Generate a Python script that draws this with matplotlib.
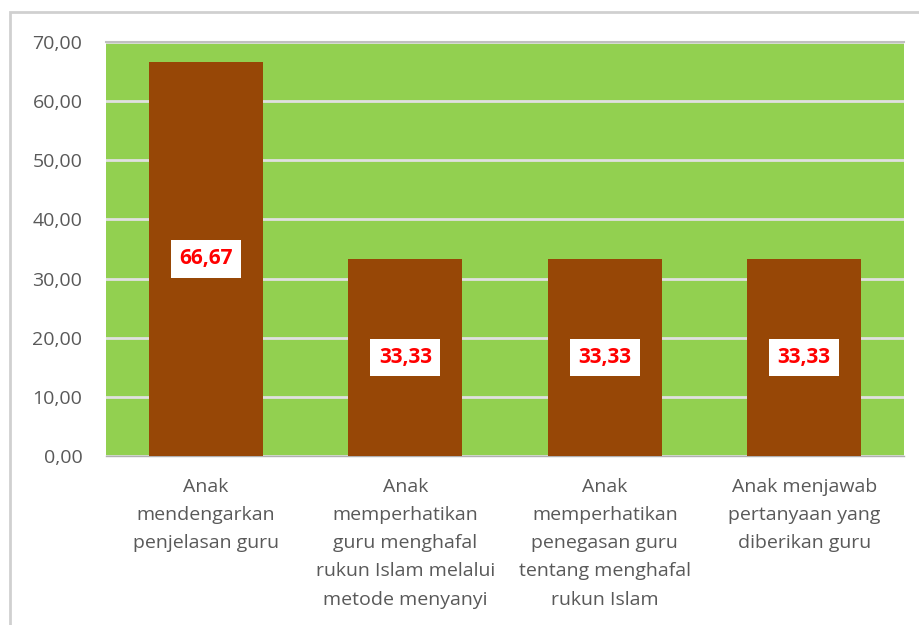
import numpy as np
import matplotlib.pyplot as plt
from matplotlib.patches import Rectangle

categories = [
    "Anak\nmendengarkan\npenjelasan guru",
    "Anak\nmemperhatikan\nguru menghafal\nrukun Islam melalui\nmetode menyanyi",
    "Anak\nmemperhatikan\npenegasan guru\ntentang menghafal\nrukun Islam",
    "Anak menjawab\npertanyaan yang\ndiberikan guru",
]
values = [66.67, 33.33, 33.33, 33.33]
yticks = [0, 10, 20, 30, 40, 50, 60, 70]

plt.rcParams['font.family'] = ['Open Sans', 'DejaVu Sans']

fig = plt.figure(figsize=(9.19, 6.25), dpi=100)
fig.patch.set_facecolor("white")
# chart border
fig.add_artist(Rectangle((10 / 919, -0.01), 1.0, 1 - 12 / 625 + 0.01, transform=fig.transFigure,
                         fill=False, edgecolor="#d0d0d0", lw=2))

ax = fig.add_axes([106 / 919, 1 - 456 / 625, 798 / 919, 414 / 625])
ax.set_facecolor("#92D050")
x = np.arange(len(values))
bars = ax.bar(x, values, width=0.57, color="#974706", zorder=3)

ax.set_xlim(-0.5, len(values) - 0.5)
ax.set_ylim(0, 70)
ax.set_yticks(yticks)
ax.set_yticklabels([f"{v:.2f}".replace(".", ",") for v in yticks], color="#595959", fontsize=14)
ax.yaxis.grid(True, color="#e0e0e0", lw=2, zorder=1)
ax.tick_params(axis="y", length=0, pad=17)
ax.tick_params(axis="x", length=0, pad=16)
ax.set_xticks(x)
ax.set_xticklabels(categories, color="#595959", fontsize=14, linespacing=1.72)
for s in ["left", "right"]:
    ax.spines[s].set_visible(False)
ax.spines["bottom"].set_color("#b0b0b0")
ax.spines["bottom"].set_linewidth(1)
ax.spines["top"].set_color("#c0c0c0")
ax.spines["top"].set_linewidth(1.5)

for xi, v in zip(x, values):
    ax.text(xi, v / 2, f"{v:.2f}".replace(".", ","), ha="center", va="center",
            color="#ff0000", fontsize=15, fontweight="bold", zorder=5,
            bbox=dict(facecolor="white", edgecolor="none", boxstyle="square,pad=0.4"))

fig.savefig("out.png", dpi=100)
